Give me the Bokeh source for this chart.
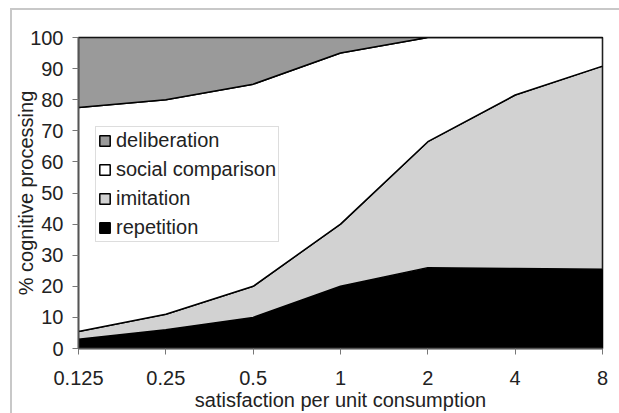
from bokeh.plotting import figure
from bokeh.models import (FixedTicker, BasicTickFormatter, Legend, LegendItem,
                          Range1d)
from bokeh.embed import file_html
from bokeh.resources import INLINE

# ---- data ----
satisfaction = [0.125, 0.25, 0.5, 1, 2, 4, 8]
repetition = [3.0, 6.0, 10.0, 20.0, 26.0, 25.7, 25.5]
imitation = [2.5, 5.0, 10.0, 20.0, 40.5, 55.8, 65.3]
social_comparison = [72.0, 69.0, 65.0, 55.0, 33.5, 18.5, 9.2]
deliberation = [22.5, 20.0, 15.0, 5.0, 0.0, 0.0, 0.0]
y_ticks = [0, 10, 20, 30, 40, 50, 60, 70, 80, 90, 100]

series = [
    ("repetition", repetition, "#000000"),
    ("imitation", imitation, "#d2d2d2"),
    ("social comparison", social_comparison, "#ffffff"),
    ("deliberation", deliberation, "#9a9a9a"),
]

FONT = "Liberation Sans"

p = figure(width=619, height=413, x_axis_type="log",
           x_range=Range1d(satisfaction[0], satisfaction[-1]),
           y_range=Range1d(0, 100),
           output_backend="svg", toolbar_location=None,
           min_border_left=78, min_border_right=17,
           min_border_top=37, min_border_bottom=65)

# light chart-area border (only top and left edges visible), as element background
p.border_fill_color = None
p.styles = {
    "background-color": "white",
    "background-image": "linear-gradient(#c8c8c8,#c8c8c8), linear-gradient(#c8c8c8,#c8c8c8)",
    "background-position": "10px 8px, 10px 8px",
    "background-size": "609px 2px, 2px 405px",
    "background-repeat": "no-repeat, no-repeat",
}

renderers = {}
lower = [0.0] * len(satisfaction)
for name, vals, color in series:
    upper = [a + b for a, b in zip(lower, vals)]
    xs = list(satisfaction) + list(satisfaction[::-1])
    ys = upper + lower[::-1]
    r = p.patch(xs, ys, fill_color=color, line_color="black", line_width=1.5)
    renderers[name] = r
    lower = upper

p.grid.visible = False
p.outline_line_color = "black"
p.outline_line_width = 1.5
p.background_fill_color = "white"

p.xaxis.ticker = FixedTicker(ticks=satisfaction, minor_ticks=[])
p.xaxis.formatter = BasicTickFormatter()
p.yaxis.ticker = FixedTicker(ticks=y_ticks, minor_ticks=[])

for ax in (p.xaxis[0], p.yaxis[0]):
    ax.major_label_text_font = FONT
    ax.major_label_text_font_size = "20px"
    ax.major_label_text_color = "#222222"
    ax.axis_label_text_font = FONT
    ax.axis_label_text_font_size = "20px"
    ax.axis_label_text_font_style = "normal"
    ax.axis_label_text_color = "#222222"
    ax.axis_line_color = "#555555"
    ax.axis_line_width = 1.5
    ax.major_tick_line_color = "#777777"
    ax.major_tick_out = 6
    ax.major_tick_in = 0
    ax.minor_tick_line_color = None

p.xaxis.axis_label = "satisfaction per unit consumption"
p.yaxis.axis_label = "% cognitive processing"
p.xaxis.major_label_standoff = 16
p.yaxis.major_label_standoff = 9
p.xaxis.axis_label_standoff = 1
p.yaxis.axis_label_standoff = -10

items = [LegendItem(label=name, renderers=[renderers[name]])
         for name in ["deliberation", "social comparison", "imitation", "repetition"]]
legend = Legend(items=items, location=(17, 106), orientation="vertical")
legend.label_text_font = FONT
legend.label_text_font_size = "20px"
legend.label_text_color = "#222222"
legend.glyph_width = 13
legend.glyph_height = 13
legend.spacing = 6
legend.padding = 2
legend.margin = 0
legend.label_standoff = 5
legend.border_line_color = "#bbbbbb"
legend.border_line_width = 1.5
legend.background_fill_color = "white"
legend.background_fill_alpha = 1.0
p.add_layout(legend, "center")

open("out.html", "w").write(file_html(p, INLINE))
